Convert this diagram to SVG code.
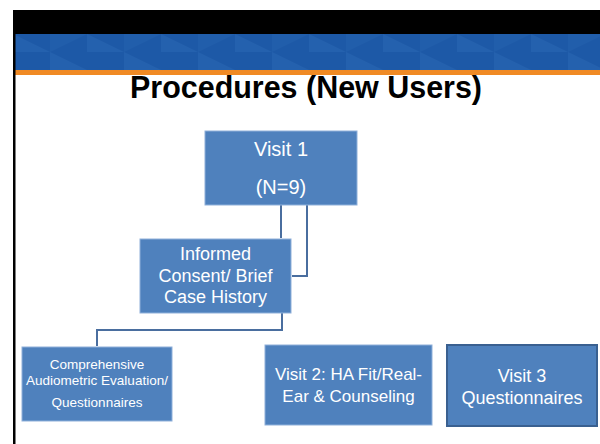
<svg xmlns="http://www.w3.org/2000/svg" width="600" height="444" viewBox="0 0 600 444">
  <defs>
    <style>
      .box { fill: #4f81bd; stroke: #8fb0da; stroke-width: 1; }
      .box-strong { fill: #4f81bd; stroke: #3a6090; stroke-width: 2; }
      .lbl { font-family: "Liberation Sans", Arial, sans-serif; fill: #ffffff; text-anchor: middle; }
      .title { font-family: "Liberation Sans", Arial, sans-serif; font-weight: bold; font-size: 31px; fill: #000000; text-anchor: middle; }
      .conn { fill: none; stroke: #4a6e9f; stroke-width: 2; }
    </style>
    <!-- repeating bow-tie triangles of the header band -->
    <pattern id="tri" x="13" y="34" width="74" height="36" patternUnits="userSpaceOnUse">
      <rect width="74" height="36" fill="#1d59a7"/>
      <polygon points="0,0 37,18 0,18" fill="#2461ae"/>
      <polygon points="37,18 74,36 37,36" fill="#2461ae"/>
      <polygon points="37,0 74,0 37,18" fill="#215eab"/>
      <polygon points="0,36 37,18 0,36 37,36" fill="#1b56a3"/>
    </pattern>
  </defs>

  <rect width="600" height="444" fill="#ffffff"/>

  <!-- header -->
  <g id="header">
    <rect x="13" y="10" width="587" height="24" fill="#000000"/>
    <rect x="13" y="34" width="587" height="36" fill="url(#tri)"/>
    <rect x="13" y="70" width="587" height="5" fill="#f08a24"/>
    <rect x="13" y="10" width="2.5" height="434" fill="#000000"/>
  </g>

  <text class="title" x="306" y="98" textLength="352" lengthAdjust="spacingAndGlyphs">Procedures (New Users)</text>

  <!-- connectors -->
  <g id="connectors">
    <path class="conn" d="M281,205 V238"/>
    <path class="conn" d="M307,205 V276 H292"/>
    <path class="conn" d="M282,313 V330 H97 V346"/>
  </g>

  <g id="visit1">
    <rect class="box" x="205" y="131" width="152" height="74"/>
    <text class="lbl" x="281" y="156" font-size="20">Visit 1</text>
    <text class="lbl" x="281" y="194" font-size="20">(N=9)</text>
  </g>

  <g id="consent">
    <rect class="box" x="140" y="239" width="151" height="74"/>
    <text class="lbl" x="215.5" y="260" font-size="18">Informed</text>
    <text class="lbl" x="215.5" y="282" font-size="18">Consent/ Brief</text>
    <text class="lbl" x="215.5" y="303" font-size="18">Case History</text>
  </g>

  <g id="evaluation">
    <rect class="box" x="22" y="347" width="150" height="74"/>
    <text class="lbl" x="97" y="369" font-size="13.5">Comprehensive</text>
    <text class="lbl" x="97" y="385" font-size="13.5">Audiometric Evaluation/</text>
    <text class="lbl" x="97" y="407" font-size="13.5">Questionnaires</text>
  </g>

  <g id="visit2">
    <rect class="box" x="265" y="345" width="167" height="80"/>
    <text class="lbl" x="348.5" y="380" font-size="17">Visit 2: HA Fit/Real-</text>
    <text class="lbl" x="348.5" y="402" font-size="17">Ear &amp; Counseling</text>
  </g>

  <g id="visit3">
    <rect class="box-strong" x="447" y="345" width="150" height="81"/>
    <text class="lbl" x="522" y="382" font-size="18">Visit 3</text>
    <text class="lbl" x="522" y="404" font-size="18">Questionnaires</text>
  </g>
</svg>
